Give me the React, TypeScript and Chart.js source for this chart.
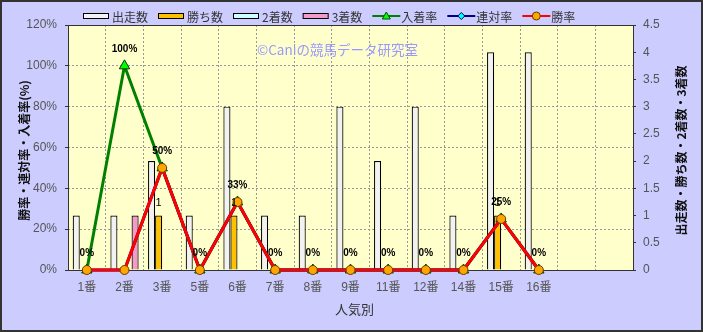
import React, { useEffect, useRef } from "react";
import { Chart, registerables } from "chart.js";

Chart.register(...registerables);

const categories = ["1番", "2番", "3番", "5番", "6番", "7番", "8番", "9番", "11番", "12番", "14番", "15番", "16番", "", ""];
const starts = [1, 1, 2, 1, 3, 1, 1, 3, 2, 3, 1, 4, 4, null, null];
const wins = [0, 0, 1, 0, 1, 0, 0, 0, 0, 0, 0, 1, 0, null, null];
const seconds = [0, 0, 0, 0, 0, 0, 0, 0, 0, 0, 0, 0, 0, null, null];
const thirds = [0, 1, 0, 0, 0, 0, 0, 0, 0, 0, 0, 0, 0, null, null];
const placeRate = [0, 100, 50, 0, 33.3, 0, 0, 0, 0, 0, 0, 25, 0, null, null];
const quinellaRate = [0, 0, 50, 0, 33.3, 0, 0, 0, 0, 0, 0, 25, 0, null, null];
const winRate = [0, 0, 50, 0, 33.3, 0, 0, 0, 0, 0, 0, 25, 0, null, null];

const seriesNames = ["出走数", "勝ち数", "2着数", "3着数", "入着率", "連対率", "勝率"];
const leftTitle = "勝率・連対率・入着率(%)";
const rightTitle = "出走数・勝ち数・2着数・3着数";
const xTitle = "人気別";
const watermark = "©Caniの競馬データ研究室";

const JP = '"Noto Sans CJK JP", "Liberation Sans", sans-serif';
const NUM = '"Liberation Sans", "Noto Sans CJK JP", sans-serif';

function drawMarker(ctx: CanvasRenderingContext2D, kind: string, x: number, y: number) {
  ctx.save();
  ctx.lineWidth = 1;
  if (kind === "triangle") {
    ctx.fillStyle = "#00FF00";
    ctx.strokeStyle = "#005000";
    ctx.beginPath();
    ctx.moveTo(x, y - 4);
    ctx.lineTo(x + 4, y + 3);
    ctx.lineTo(x - 4, y + 3);
    ctx.closePath();
  } else if (kind === "diamond") {
    ctx.fillStyle = "#00FFFF";
    ctx.strokeStyle = "#000060";
    ctx.beginPath();
    ctx.moveTo(x, y - 3.5);
    ctx.lineTo(x + 3.5, y);
    ctx.lineTo(x, y + 3.5);
    ctx.lineTo(x - 3.5, y);
    ctx.closePath();
  } else {
    ctx.fillStyle = "#FFA500";
    ctx.strokeStyle = "#6B3A00";
    ctx.beginPath();
    ctx.arc(x, y, 4, 0, Math.PI * 2);
  }
  ctx.fill();
  ctx.stroke();
  ctx.restore();
}

const decor = {
  id: "decor",
  beforeDraw(chart: any) {
    const { ctx, chartArea: a, width, height } = chart;
    ctx.save();
    ctx.fillStyle = "#CCCCFF";
    ctx.fillRect(0, 0, width, height);
    ctx.fillStyle = "#FFFFCC";
    ctx.fillRect(a.left, a.top, a.right - a.left, a.bottom - a.top);
    ctx.restore();
  },
  beforeDatasetsDraw(chart: any) {
    const { ctx, chartArea: a } = chart;
    ctx.save();
    ctx.strokeStyle = "#333333";
    ctx.lineWidth = 1;
    ctx.strokeRect(Math.round(a.left) + 0.5, Math.round(a.top) + 0.5, Math.round(a.right - a.left), Math.round(a.bottom - a.top));
    ctx.fillStyle = "#9999FF";
    ctx.font = "13.5px " + JP;
    ctx.textBaseline = "middle";
    ctx.textAlign = "left";
    ctx.fillText(watermark, 257, 50);
    ctx.restore();
  },
  afterDatasetsDraw(chart: any) {
    const { ctx } = chart;
    ctx.save();
    const meta = chart.getDatasetMeta(4);
    ctx.font = "bold 10px " + NUM;
    ctx.fillStyle = "#000000";
    ctx.textAlign = "center";
    ctx.textBaseline = "middle";
    meta.data.forEach((p: any, i: number) => {
      const v = placeRate[i];
      if (v === null || v === undefined) return;
      ctx.fillText(Math.round(v) + "%", p.x, p.y - 17);
    });
    const bm = chart.getDatasetMeta(1);
    ctx.font = "11px " + NUM;
    bm.data.forEach((b: any, i: number) => {
      const v = wins[i];
      if (!v) return;
      ctx.fillText(String(v), b.x, b.y - 13);
    });
    ctx.restore();
  },
  afterDraw(chart: any) {
    const { ctx, chartArea: a, width, height } = chart;
    ctx.save();
    const legendItems = [
      { label: seriesNames[0], type: "box", fill: "#F2F2F2" },
      { label: seriesNames[1], type: "box", fill: "#FFC000" },
      { label: seriesNames[2], type: "box", fill: "#CCFFFF" },
      { label: seriesNames[3], type: "box", fill: "#F39AC8" },
      { label: seriesNames[4], type: "line", color: "#008000", marker: "triangle" },
      { label: seriesNames[5], type: "line", color: "#000080", marker: "diamond" },
      { label: seriesNames[6], type: "line", color: "#FF0000", marker: "circle" },
    ];
    let x = 83;
    const ly = 16;
    ctx.font = "12px " + JP;
    ctx.textBaseline = "middle";
    ctx.textAlign = "left";
    legendItems.forEach((it: any) => {
      if (it.type === "box") {
        ctx.fillStyle = it.fill;
        ctx.fillRect(x, ly - 3, 26, 6);
        ctx.strokeStyle = "#000000";
        ctx.lineWidth = 1;
        ctx.strokeRect(x + 0.5, ly - 2.5, 25, 5);
      } else {
        ctx.strokeStyle = it.color;
        ctx.lineWidth = 2;
        ctx.beginPath();
        ctx.moveTo(x, ly);
        ctx.lineTo(x + 28, ly);
        ctx.stroke();
        drawMarker(ctx, it.marker, x + 14, ly);
      }
      ctx.fillStyle = "#333333";
      ctx.fillText(it.label, x + 29, ly + 1);
      x += 29 + ctx.measureText(it.label).width + 10;
    });
    ctx.fillStyle = "#111111";
    ctx.font = "bold 12px " + JP;
    ctx.textAlign = "center";
    ctx.textBaseline = "middle";
    const cy = (a.top + a.bottom) / 2 + 3;
    ctx.save();
    ctx.translate(24, cy);
    ctx.rotate(-Math.PI / 2);
    ctx.fillText(leftTitle, 0, 0);
    ctx.restore();
    ctx.save();
    ctx.translate(681, cy);
    ctx.rotate(-Math.PI / 2);
    ctx.fillText(rightTitle, 0, 0);
    ctx.restore();
    ctx.fillStyle = "#333333";
    ctx.font = "13px " + JP;
    ctx.fillText(xTitle, (a.left + a.right) / 2 + 4, 309);
    ctx.strokeStyle = "#333333";
    ctx.lineWidth = 2;
    ctx.strokeRect(1, 1, width - 2, height - 2);
    ctx.restore();
  },
};

export default function App() {
  const ref = useRef<HTMLCanvasElement | null>(null);
  useEffect(() => {
    document.body.style.margin = "0";
    const canvas = ref.current;
    if (!canvas) return;
    const barCommon = {
      type: "bar" as const,
      yAxisID: "y1",
      borderColor: "#000000",
      borderWidth: 1.2,
      categoryPercentage: 0.75,
      barPercentage: 1.0,
      order: 10,
    };
    const chart = new Chart(canvas, {
      type: "bar",
      data: {
        labels: categories,
        datasets: [
          { ...barCommon, label: seriesNames[0], data: starts, backgroundColor: "#F2F2F2" },
          { ...barCommon, label: seriesNames[1], data: wins, backgroundColor: "#FFC000" },
          { ...barCommon, label: seriesNames[2], data: seconds, backgroundColor: "#CCFFFF" },
          { ...barCommon, label: seriesNames[3], data: thirds, backgroundColor: "#F39AC8" },
          {
            type: "line", label: seriesNames[4], data: placeRate, yAxisID: "y",
            borderColor: "#008000", borderWidth: 3, pointStyle: "triangle", pointRadius: 6,
            pointBackgroundColor: "#00FF00", pointBorderColor: "#004000", pointBorderWidth: 1,
            clip: false, order: 3,
          },
          {
            type: "line", label: seriesNames[5], data: quinellaRate, yAxisID: "y",
            borderColor: "#000080", borderWidth: 3, pointStyle: "rectRot", pointRadius: 4,
            pointBackgroundColor: "#00FFFF", pointBorderColor: "#000060", pointBorderWidth: 1,
            clip: false, order: 2,
          },
          {
            type: "line", label: seriesNames[6], data: winRate, yAxisID: "y",
            borderColor: "#FF0000", borderWidth: 3, pointStyle: "circle", pointRadius: 4.5,
            pointBackgroundColor: "#FFA500", pointBorderColor: "#6B3A00", pointBorderWidth: 1,
            clip: false, order: 1,
          },
        ] as any,
      },
      options: {
        responsive: false,
        animation: false,
        events: [],
        layout: { padding: { top: 25, left: 0, right: 0, bottom: 0 } },
        plugins: { legend: { display: false }, tooltip: { enabled: false }, title: { display: false } },
        scales: {
          x: {
            offset: true,
            grid: { offset: true, color: "#999999", drawTicks: false, lineWidth: 1 } as any,
            border: { display: false, dash: [2, 2] } as any,
            ticks: { color: "#555555", font: { size: 12, family: NUM }, padding: 10, maxRotation: 0, autoSkip: false },
            afterFit: (s: any) => { s.height = 62; },
          },
          y: {
            position: "left",
            min: 0,
            max: 120,
            ticks: { stepSize: 20, color: "#555555", font: { size: 12, family: NUM }, padding: 8, callback: (v: any) => v + "%" },
            grid: { color: "#999999", tickLength: 3, tickBorderDash: [] as any, tickColor: "#333333" } as any,
            border: { display: false, dash: [2, 2] } as any,
            afterFit: (s: any) => { s.width = 68; },
          },
          y1: {
            position: "right",
            min: 0,
            max: 4.5,
            ticks: { stepSize: 0.5, color: "#555555", font: { size: 12, family: NUM }, padding: 7, callback: (v: any) => String(v) },
            grid: { drawOnChartArea: false, tickLength: 3, tickColor: "#333333" },
            border: { display: false },
            afterFit: (s: any) => { s.width = 70; },
          },
        },
      },
      plugins: [decor],
    });
    return () => chart.destroy();
  }, []);
  return (
    <div style={{ width: 703, height: 332 }}>
      <canvas ref={ref} width={703} height={332} style={{ display: "block", width: 703, height: 332 }} />
    </div>
  );
}
